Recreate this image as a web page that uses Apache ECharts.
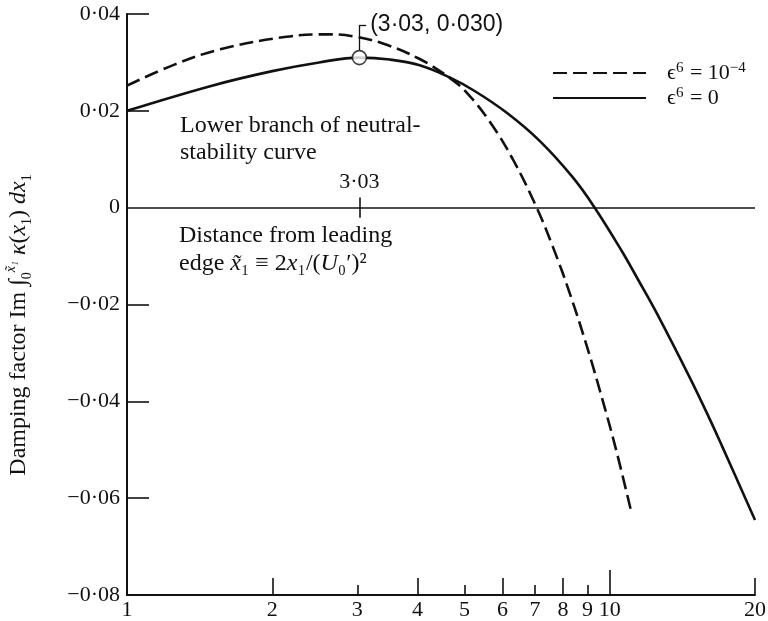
<!DOCTYPE html>
<html>
<head>
<meta charset="utf-8">
<script src="https://cdn.jsdelivr.net/npm/echarts@6/dist/echarts.min.js"></script>
<style>
  html, body { margin: 0; padding: 0; background: #fff; }
  #chart { width: 768px; height: 621px; }
</style>
</head>
<body>
<div id="chart"></div>
<script>
// eps^6 = 0 (solid)
const solidX = [1, 1.5, 2, 2.5, 3.03, 3.5, 4.04, 4.66, 5.25, 6.12, 7.16, 8.38, 9.31, 10.6, 11.5, 12.5, 14.6, 16, 17.1, 20];
const solidY = [0.020, 0.0252, 0.0282, 0.0300, 0.0310, 0.0306, 0.0294, 0.0269, 0.0241, 0.0196, 0.0138, 0.0063, 0, -0.0090, -0.0152, -0.0217, -0.0348, -0.0430, -0.0493, -0.0645];
// eps^6 = 1e-4 (dashed)
const dashX = [1, 1.25, 1.56, 2.14, 2.63, 2.94, 3.39, 4.04, 4.66, 5.06, 5.64, 6.30, 7.06, 7.62, 8.26, 8.96, 9.67, 10.34, 11.1];
const dashY = [0.0252, 0.0295, 0.0327, 0.0353, 0.0358, 0.0354, 0.0339, 0.0307, 0.0268, 0.0237, 0.0178, 0.0100, 0, -0.0080, -0.0176, -0.0285, -0.0398, -0.0505, -0.0631];
// marked point on lower branch
const peakPoint = [3.03, 0.031];
const peakLabel = '(3·03, 0·030)';

const xLabels = [1, 2, 3, 4, 5, 6, 7, 8, 9, 10, 20];
const xMajorTicks = [2, 4, 6, 8, 20];
const xMinorTicks = [3, 5, 7, 9];
const xDecadeTicks = [10];
const yTicks = [0.04, 0.02, -0.02, -0.04, -0.06];
const legendNames = ['ϵ⁶ = 10⁻⁴', 'ϵ⁶ = 0'];

const serif = '"Liberation Serif", "DejaVu Serif", serif';
const ink = '#111';

const chart = echarts.init(document.getElementById('chart'));

function fmtY(v) {
    if (Math.abs(v) < 1e-9) return '0';
    return (v < 0 ? '−' : '') + Math.abs(v).toFixed(2).replace('.', '·');
}

// turn unicode superscripts into rich-text superscript tokens
function supRich(name) {
    const map = { '⁶': '6', '⁻': '−', '⁴': '4' };
    return name.replace(/[⁶⁻⁴]+/g, s => '{sup|' + s.split('').map(c => map[c]).join('') + '}');
}

function xAxisOf(ticks, len, withLine) {
    return {
        type: 'log',
        logBase: 10,
        min: 1,
        max: 20,
        position: 'bottom',
        axisLine: { show: withLine, onZero: false, lineStyle: { color: ink, width: 2 } },
        axisTick: { show: true, inside: true, length: len, customValues: ticks, lineStyle: { color: ink, width: 1.6 } },
        axisLabel: withLine ? {
            show: true,
            customValues: xLabels,
            formatter: v => String(Math.round(v)),
            fontFamily: serif, fontSize: 22, color: ink, margin: 4
        } : { show: false },
        splitLine: { show: false },
        minorTick: { show: false }
    };
}

const option = {
    backgroundColor: '#fff',
    animation: false,
    grid: { left: 127, right: 13, top: 14, bottom: 26, containLabel: false, outerBoundsMode: 'none' },
    legend: {
        data: legendNames,
        orient: 'vertical',
        left: 547,
        top: 56,
        itemWidth: 93,
        itemHeight: 14,
        itemGap: 2,
        itemStyle: { opacity: 0 },
        formatter: supRich,
        textStyle: {
            fontFamily: serif, fontSize: 22, color: ink, padding: [0, 0, 0, 16],
            rich: {
                sup: { fontFamily: serif, fontSize: 15, verticalAlign: 'top', lineHeight: 24, padding: [0, 1, 0, 0] }
            }
        }
    },
    xAxis: [
        xAxisOf(xMajorTicks, 17, true),
        xAxisOf(xMinorTicks, 10, false),
        xAxisOf(xDecadeTicks, 25, false)
    ],
    yAxis: {
        type: 'value',
        min: -0.08,
        max: 0.04,
        interval: 0.02,
        axisLine: { show: true, onZero: false, lineStyle: { color: ink, width: 2 } },
        axisTick: { show: true, inside: true, length: 22, customValues: yTicks, lineStyle: { color: ink, width: 1.6 } },
        axisLabel: { formatter: fmtY, fontFamily: serif, fontSize: 22, color: ink, margin: 7 },
        splitLine: { show: false }
    },
    series: [
        {
            name: legendNames[0],
            type: 'line',
            smooth: 0.4,
            symbol: 'none',
            data: dashX.map((x, i) => [x, dashY[i]]),
            lineStyle: { color: ink, width: 2.6, type: [14, 6] },
            itemStyle: { color: ink },
            z: 3
        },
        {
            name: legendNames[1],
            type: 'line',
            smooth: 0.4,
            symbol: 'none',
            data: solidX.map((x, i) => [x, solidY[i]]),
            lineStyle: { color: ink, width: 2.6 },
            itemStyle: { color: ink },
            z: 3,
            markLine: {
                silent: true,
                symbol: 'none',
                lineStyle: { color: ink, width: 1.6, type: 'solid' },
                label: { show: false },
                data: [
                    { yAxis: 0 },
                    [
                        { coord: [3.03, -0.0021] },
                        { coord: [3.03, 0.0021], label: { show: true, position: 'end', formatter: '3·03', fontFamily: serif, fontSize: 22, color: ink, distance: 4 } }
                    ]
                ]
            }
        },
        {
            name: 'peak',
            type: 'scatter',
            data: [peakPoint],
            symbol: 'circle',
            symbolSize: 14,
            itemStyle: { color: '#fff', borderColor: ink, borderWidth: 1.6 },
            z: 5,
            markLine: {
                silent: true,
                symbol: 'none',
                lineStyle: { color: ink, width: 1.3, type: 'solid' },
                label: { show: false },
                data: [
                    [{ coord: [3.03, 0.0325] }, { coord: [3.03, 0.0377] }],
                    [
                        { coord: [3.03, 0.0377] },
                        { coord: [3.13, 0.0377], label: { show: true, position: 'end', formatter: peakLabel, fontFamily: '"Liberation Sans", Arial, sans-serif', fontSize: 23, color: ink, distance: 4 } }
                    ]
                ]
            }
        }
    ],
    graphic: [
        {
            type: 'text',
            x: 19, y: 325,
            rotation: Math.PI / 2,
            style: {
                text: '{n|Damping factor Im ∫}{lo|0}{hi|x̃₁}{n| }{i|κ}{n|(}{i|x}{lo|1}{n|) }{i|dx}{lo|1}',
                align: 'center',
                verticalAlign: 'middle',
                fill: ink,
                rich: {
                    n: { fontFamily: serif, fontSize: 24, lineHeight: 30, verticalAlign: 'middle' },
                    i: { fontFamily: serif, fontSize: 24, fontStyle: 'italic', lineHeight: 30, verticalAlign: 'middle' },
                    lo: { fontFamily: serif, fontSize: 14, lineHeight: 30, verticalAlign: 'bottom' },
                    hi: { fontFamily: serif, fontSize: 14, fontStyle: 'italic', lineHeight: 30, verticalAlign: 'top' }
                }
            }
        },
        {
            type: 'text',
            x: 180, y: 112,
            style: {
                text: 'Lower branch of neutral-\nstability curve',
                fontFamily: serif, fontSize: 24, lineHeight: 27, fill: ink
            }
        },
        {
            type: 'text',
            x: 179, y: 222,
            style: {
                text: '{n|Distance from leading}\n{n|edge }{i|x̃}{n|₁ ≡ 2}{i|x}{n|₁/(}{i|U}{n|₀′)²}',
                fill: ink,
                rich: {
                    n: { fontFamily: serif, fontSize: 24, lineHeight: 28 },
                    i: { fontFamily: serif, fontSize: 24, fontStyle: 'italic', lineHeight: 28 }
                }
            }
        }
    ]
};

chart.setOption(option);
</script>
</body>
</html>
